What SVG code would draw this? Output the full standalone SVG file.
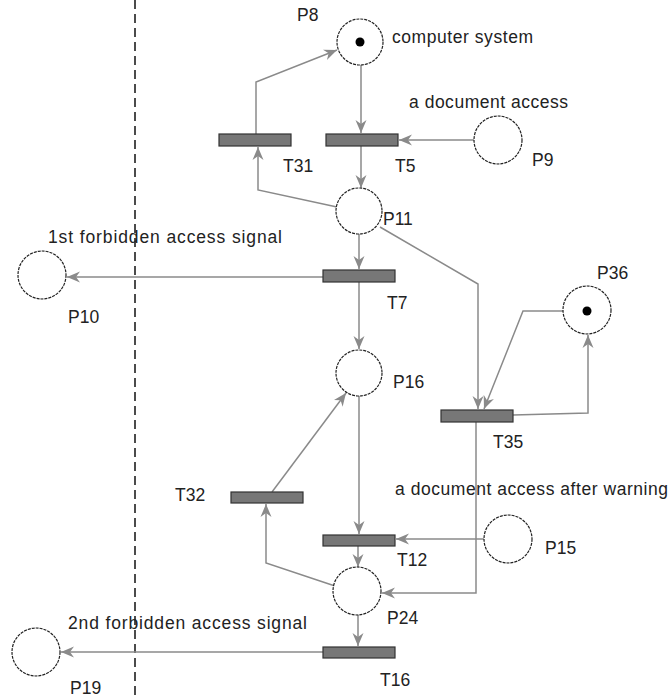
<svg xmlns="http://www.w3.org/2000/svg" width="670" height="698" viewBox="0 0 670 698">
<style>
.pl{fill:#fff;stroke:#222;stroke-width:1.2;stroke-dasharray:3 1}
.tr{fill:#777;stroke:#333;stroke-width:1.2}
.tk{fill:#000}
.ar{fill:none;stroke:#8a8a8a;stroke-width:1.5;marker-end:url(#ah)}
text{font-family:"Liberation Sans",Arial,sans-serif;font-size:17.5px;fill:#222}
</style>
<defs>
<marker id="ah" markerUnits="userSpaceOnUse" markerWidth="14" markerHeight="12" refX="13" refY="6" orient="auto">
<path d="M0,0.5 L13,6 L0,11.5 L4,6 z" fill="#8a8a8a"/>
</marker>
</defs>
<rect width="670" height="698" fill="#fff"/>
<line x1="135" y1="0" x2="135" y2="698" stroke="#111" stroke-width="1.5" stroke-dasharray="9 5"/>
<g id="connectors">
<path class="ar" d="M361,65 L361,133"/>
<path class="ar" d="M361,146 L361,188"/>
<path class="ar" d="M474,140 L399,140"/>
<path class="ar" d="M337,207 L258,190 L258,147"/>
<path class="ar" d="M256,134 L256,82 L337,50"/>
<path class="ar" d="M359,234 L359,269"/>
<path class="ar" d="M323,277 L67,277"/>
<path class="ar" d="M359,282 L359,349"/>
<path class="ar" d="M380,227 L478,284 L478,409"/>
<path class="ar" d="M563,311 L523,311 L484,409"/>
<path class="ar" d="M513,415 L588,413 L588,335"/>
<path class="ar" d="M476,422 L476,593 L382,593"/>
<path class="ar" d="M359,396 L359,534"/>
<path class="ar" d="M484,539 L396,539"/>
<path class="ar" d="M358,546 L358,567"/>
<path class="ar" d="M335,586 L266,563 L266,504"/>
<path class="ar" d="M272,492 L346,393"/>
<path class="ar" d="M358,615 L358,646"/>
<path class="ar" d="M323,652 L61,652"/>
</g>
<g id="P8"><circle class="pl" cx="360" cy="42" r="23"/><circle class="tk" cx="360" cy="42" r="4.5"/><text x="297" y="21">P8</text><text x="392" y="43" textLength="141">computer system</text></g>
<g id="P9"><circle class="pl" cx="498" cy="140" r="24"/><text x="532" y="166">P9</text><text x="409" y="108" textLength="159">a document access</text></g>
<g id="P11"><circle class="pl" cx="359" cy="211" r="23"/><text x="383" y="225">P11</text></g>
<g id="P10"><circle class="pl" cx="42" cy="275" r="24"/><text x="68" y="323">P10</text><text x="48" y="243" textLength="234">1st forbidden access signal</text></g>
<g id="P16"><circle class="pl" cx="359" cy="373" r="23"/><text x="393" y="388">P16</text></g>
<g id="P36"><circle class="pl" cx="587" cy="310" r="24"/><circle class="tk" cx="587" cy="311" r="4.5"/><text x="597" y="279">P36</text></g>
<g id="P15"><circle class="pl" cx="508" cy="539" r="24"/><text x="545" y="554">P15</text><text x="395" y="495" textLength="273">a document access after warning</text></g>
<g id="P24"><circle class="pl" cx="357" cy="591" r="24"/><text x="387" y="624">P24</text></g>
<g id="P19"><circle class="pl" cx="36" cy="652" r="24"/><text x="70" y="694">P19</text><text x="68" y="629" textLength="239">2nd forbidden access signal</text></g>
<g id="T31"><rect class="tr" x="219" y="134" width="72" height="12"/><text x="283" y="172">T31</text></g>
<g id="T5"><rect class="tr" x="326" y="134" width="72" height="12"/><text x="395" y="172">T5</text></g>
<g id="T7"><rect class="tr" x="323" y="270" width="72" height="12"/><text x="387" y="309">T7</text></g>
<g id="T35"><rect class="tr" x="441" y="410" width="72" height="12"/><text x="493" y="448">T35</text></g>
<g id="T32"><rect class="tr" x="231" y="492" width="72" height="11"/><text x="175" y="501">T32</text></g>
<g id="T12"><rect class="tr" x="323" y="535" width="72" height="11"/><text x="397" y="566">T12</text></g>
<g id="T16"><rect class="tr" x="323" y="647" width="72" height="11"/><text x="380" y="686">T16</text></g>
</svg>
